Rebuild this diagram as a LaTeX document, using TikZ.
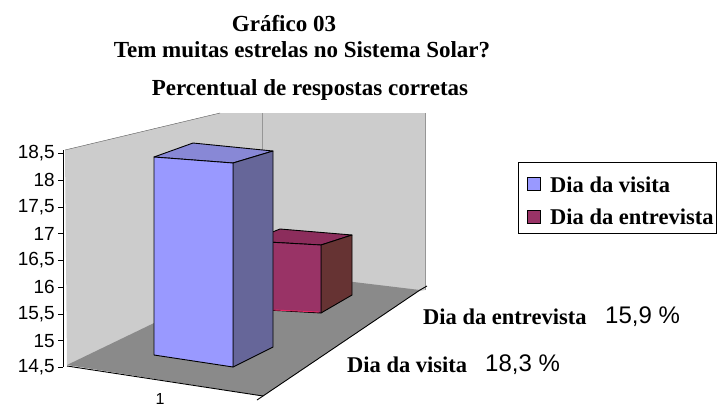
\documentclass[tikz,border=0pt]{standalone}
\usepackage{fontspec}
\setmainfont{Liberation Serif}
\newfontfamily\axisfont{Liberation Sans}
\definecolor{wallc}{RGB}{204,204,204}
\definecolor{wallline}{RGB}{150,150,150}
\definecolor{floorc}{RGB}{138,138,138}
\definecolor{bluefront}{RGB}{153,153,255}
\definecolor{blueside}{RGB}{102,102,153}
\definecolor{bluetop}{RGB}{136,136,214}
\definecolor{redfront}{RGB}{153,51,102}
\definecolor{redside}{RGB}{102,51,51}
\definecolor{redtop}{RGB}{140,45,92}
\definecolor{rededge}{RGB}{230,40,100}
\tikzset{
  titletext/.style={font=\fontsize{23}{23}\selectfont\bfseries, inner sep=0pt},
  serlabel/.style={font=\fontsize{22.5}{22.5}\selectfont\bfseries, inner sep=0pt, anchor=west},
  numlabel/.style={font=\axisfont\fontsize{24}{24}\selectfont, inner sep=0pt, anchor=west},
  ticklabel/.style={font=\axisfont\fontsize{19}{19}\selectfont, inner sep=0pt, anchor=east},
  face/.style={draw=black, line width=0.9pt, line join=round},
  axisline/.style={draw=black, line width=0.9pt},
  legendbox/.style={draw=black, line width=0.9pt, fill=white},
  legendmark/.style={draw=black, line width=0.8pt, minimum width=13pt, minimum height=13pt, inner sep=0pt}
}
\begin{document}
\begin{tikzpicture}[x=1pt,y=-1pt]
\useasboundingbox (0,0) rectangle (717,410);
\fill[white] (0,0) rectangle (717,410);

% titles
\node[titletext] (t1) at (284,24) {Gráfico 03};
\node[titletext] (t2) at (302,50) {Tem muitas estrelas no Sistema Solar?};
\node[titletext] (t3) at (310,90) {Percentual de respostas corretas};

% walls
\fill[wallc] (65,150) -- (220,113) -- (425,113) -- (425,290) -- (67,365) -- cycle;
\draw[wallline] (425,113) -- (425,290);
\draw[wallline] (262,113) -- (262,272);
\draw[gray!70!black] (65,150) -- (220,113);
% floor
\fill[floorc] (67,365) -- (262,271) -- (420,290) -- (263,396) -- cycle;

% red bar (Dia da entrevista)
\filldraw[face, fill=redtop] (250,241) -- (280,229) -- (352,235) -- (321,245) -- cycle;
\filldraw[face, fill=redside] (321,245) -- (352,235) -- (352,295) -- (321,313) -- cycle;
\filldraw[face, fill=redfront] (250,241) -- (321,245) -- (321,313) -- (250,309) -- cycle;
\draw[rededge, line width=0.9pt] (252,309) -- (319,312);

% blue bar (Dia da visita)
\filldraw[face, fill=bluetop] (154,157) -- (193,143) -- (273,151) -- (233,163) -- cycle;
\filldraw[face, fill=blueside] (233,163) -- (273,151) -- (273,347) -- (233,367) -- cycle;
\filldraw[face, fill=bluefront] (154,157) -- (233,163) -- (233,367) -- (154,355) -- cycle;

% axes
\draw[axisline] (63,150) -- (63,367);
\draw[axisline] (67,366) -- (263,396) -- (420,290);
\draw[axisline] (263,396) -- (257,400);
\draw[axisline] (420,290) -- (427,286);
\foreach \v/\yy [count=\i] in {{18,5}/153.5, {18}/180.2, {17,5}/207, {17}/233.7, {16,5}/260.5, {16}/287.2, {15,5}/314, {15}/340.7, {14,5}/367.5} {
  \draw[axisline] (58,\yy) -- (63,\yy);
  \node[ticklabel] (tick\i) at (55,\yy) {\v};
}
\node[font=\axisfont\fontsize{16}{16}\selectfont, inner sep=0pt, anchor=base] (cat1) at (160,404) {1};

% series labels on depth axis
\node[serlabel] (lentr) at (423,317) {Dia da entrevista};
\node[numlabel] (ventr) at (605,317) {15,9 \%};
\node[serlabel] (lvis) at (347,365) {Dia da visita};
\node[numlabel] (vvis) at (485,365) {18,3 \%};

% legend
\draw[legendbox] (518,162) rectangle (716,233);
\node[legendmark, fill=bluefront] (m1) at (533.5,183.5) {};
\node[legendmark, fill=redfront] (m2) at (533.5,216.5) {};
\node[serlabel] (leg1) at (550,185) {Dia da visita};
\node[serlabel] (leg2) at (550,217) {Dia da entrevista};
\end{tikzpicture}
\end{document}
